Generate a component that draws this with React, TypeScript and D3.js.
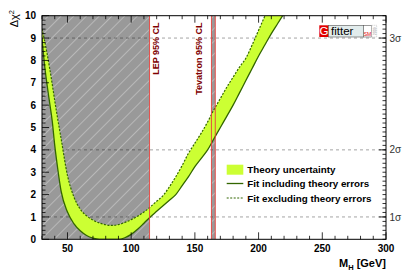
import React, { useEffect, useRef } from 'react';
import * as d3 from 'd3';

// Higgs mass scan
const massGeV = [30, 32, 34, 36, 38, 40, 42, 45, 50, 55, 60, 65, 70, 75, 80, 85, 90, 95, 100,
  105, 110, 115, 120, 125, 130, 135, 140, 145, 150, 155, 160, 165, 170, 175, 180, 185, 190, 195, 200, 205, 210, 215, 220];
const chi2WithTheory = [9.0, 7.8, 6.9, 6.1, 5.3, 4.2, 3.3, 2.15, 1.22, 0.7, 0.38, 0.17, 0.05, 0, 0, 0, 0, 0.07, 0.22,
  0.45, 0.72, 1.0, 1.25, 1.5, 1.75, 2.0, 2.4, 2.8, 3.25, 3.62, 4.0, 4.5, 5.0, 5.5, 6.0, 6.55, 7.1, 7.65, 8.2, 8.7, 9.2, 9.65, 10.1];
const chi2NoTheory = [9.4, 8.9, 8.3, 7.65, 6.95, 6.2, 5.5, 4.5, 2.85, 1.9, 1.35, 1.05, 0.86, 0.73, 0.65, 0.62, 0.66, 0.75, 0.88,
  1.03, 1.22, 1.45, 1.7, 1.95, 2.35, 2.8, 3.3, 3.85, 4.3, 4.75, 5.25, 5.8, 6.3, 6.8, 7.25, 7.7, 8.1, 8.7, 9.35, 10.0, 10.7, 11.3, 11.9];

const xTickLabels = [50, 100, 150, 200, 250, 300];
const yTickLabels = [0, 1, 2, 3, 4, 5, 6, 7, 8, 9, 10];
const sigmaLevels = [1, 2, 3];
const lepLimit = 114.4;
const tevatronRange = [163, 166];
const legendLabels = ['Theory uncertainty', 'Fit including theory errors', 'Fit excluding theory errors'];

const W = 407;
const H = 276;
const left = 42, right = 386, top = 15.7, bottom = 239.3;
const font = 'Liberation Sans, Arial, Helvetica, sans-serif';
const green = '#336600';
const bandColor = '#ccff33';
const darkRed = '#800000';
const limitRed = '#e8413c';

export default function App() {
  const ref = useRef<SVGSVGElement>(null);

  useEffect(() => {
    const svg = d3.select(ref.current);
    svg.selectAll('*').remove();

    const x = d3.scaleLinear().domain([30, 300]).range([left, right]);
    const y = d3.scaleLinear().domain([0, 10]).range([bottom, top]);

    const defs = svg.append('defs');
    defs.append('clipPath').attr('id', 'plot')
      .append('rect').attr('x', left).attr('y', top).attr('width', right - left).attr('height', bottom - top);
    const hatch = defs.append('pattern').attr('id', 'hatch')
      .attr('patternUnits', 'userSpaceOnUse').attr('width', 9).attr('height', 9)
      .attr('patternTransform', 'rotate(45)');
    hatch.append('rect').attr('width', 9).attr('height', 9).attr('fill', '#999');
    hatch.append('line').attr('x1', 0).attr('y1', 0).attr('x2', 0).attr('y2', 9)
      .attr('stroke', 'rgba(255,255,255,0.6)').attr('stroke-width', 1);

    const plot = svg.append('g').attr('clip-path', 'url(#plot)');

    // excluded regions
    plot.append('rect').attr('x', x(30)).attr('y', top).attr('width', x(lepLimit) - x(30))
      .attr('height', bottom - top).attr('fill', 'url(#hatch)');
    plot.append('rect').attr('x', x(tevatronRange[0])).attr('y', top)
      .attr('width', x(tevatronRange[1]) - x(tevatronRange[0]))
      .attr('height', bottom - top).attr('fill', 'url(#hatch)');

    // sigma grid lines
    sigmaLevels.forEach(s => {
      plot.append('line').attr('x1', left).attr('x2', right)
        .attr('y1', y(s * s)).attr('y2', y(s * s))
        .attr('stroke', 'rgba(0,0,0,0.45)').attr('stroke-width', 0.8).attr('stroke-dasharray', '3,3');
    });

    const idx = d3.range(massGeV.length);
    const band = d3.area<number>()
      .x(i => x(massGeV[i]))
      .y0(i => y(chi2WithTheory[i]))
      .y1(i => y(chi2NoTheory[i]))
      .curve(d3.curveMonotoneX);
    plot.append('path').attr('d', band(idx)).attr('fill', bandColor);

    const lineWith = d3.line<number>().x(i => x(massGeV[i])).y(i => y(chi2WithTheory[i])).curve(d3.curveMonotoneX);
    const lineNo = d3.line<number>().x(i => x(massGeV[i])).y(i => y(chi2NoTheory[i])).curve(d3.curveMonotoneX);
    plot.append('path').attr('d', lineWith(idx)).attr('fill', 'none')
      .attr('stroke', green).attr('stroke-width', 1.3);
    plot.append('path').attr('d', lineNo(idx)).attr('fill', 'none')
      .attr('stroke', green).attr('stroke-width', 1.2).attr('stroke-dasharray', '2,1.5');

    // limit lines
    [lepLimit, tevatronRange[0], tevatronRange[1]].forEach(m => {
      plot.append('line').attr('x1', x(m)).attr('x2', x(m)).attr('y1', top).attr('y2', bottom)
        .attr('stroke', limitRed).attr('stroke-width', 0.9);
    });

    // limit labels
    [['LEP 95% CL', x(lepLimit) + 9.5], ['Tevatron 95% CL', x(tevatronRange[0]) - 9.4]].forEach(([label, tx]) => {
      svg.append('text')
        .attr('transform', `translate(${tx},22.5) rotate(-90)`)
        .attr('text-anchor', 'end')
        .attr('font-family', font).attr('font-weight', 'bold').attr('font-size', 9)
        .attr('fill', darkRed)
        .text(label as string);
    });

    // frame
    svg.append('rect').attr('x', left).attr('y', top).attr('width', right - left).attr('height', bottom - top)
      .attr('fill', 'none').attr('stroke', '#000').attr('stroke-width', 1);

    const ticks = svg.append('g').attr('stroke', '#000').attr('stroke-width', 0.8);
    d3.range(30, 301, 10).forEach(v => {
      const len = v % 50 === 0 ? 7 : 3.5;
      ticks.append('line').attr('x1', x(v)).attr('x2', x(v)).attr('y1', bottom).attr('y2', bottom - len);
      ticks.append('line').attr('x1', x(v)).attr('x2', x(v)).attr('y1', top).attr('y2', top + len);
    });
    d3.range(0, 50.5, 1).forEach(k => {
      const v = k * 0.2;
      const major = k % 5 === 0;
      ticks.append('line').attr('x1', left).attr('x2', left + (major ? 7 : 3.5)).attr('y1', y(v)).attr('y2', y(v));
      ticks.append('line').attr('x1', right).attr('x2', right - 3.5).attr('y1', y(v)).attr('y2', y(v));
    });
    sigmaLevels.forEach(s => {
      ticks.append('line').attr('x1', right).attr('x2', right - 7).attr('y1', y(s * s)).attr('y2', y(s * s));
    });

    // tick labels
    xTickLabels.forEach(v => {
      svg.append('text').attr('x', x(v)).attr('y', 251.5).attr('text-anchor', 'middle')
        .attr('font-family', font).attr('font-weight', 'bold').attr('font-size', 10).text(v);
    });
    yTickLabels.forEach(v => {
      svg.append('text').attr('x', 36).attr('y', y(v)).attr('dy', '0.36em').attr('text-anchor', 'end')
        .attr('font-family', font).attr('font-weight', 'bold').attr('font-size', 10).text(v);
    });
    sigmaLevels.forEach(s => {
      svg.append('text').attr('x', 389.5).attr('y', y(s * s)).attr('dy', '0.36em')
        .attr('font-family', font).attr('font-size', 10).attr('fill', '#333').text(`${s}σ`);
    });

    // axis titles
    const yt = svg.append('text').attr('transform', 'translate(17.5,10) rotate(-90)')
      .attr('text-anchor', 'end').attr('font-family', font).attr('font-size', 11);
    yt.append('tspan').text('Δχ');
    yt.append('tspan').attr('dy', -4).attr('font-size', 7.5).text('2');

    const xt = svg.append('text').attr('x', right).attr('y', 267).attr('text-anchor', 'end')
      .attr('font-family', font).attr('font-weight', 'bold').attr('font-size', 11);
    xt.append('tspan').text('M');
    xt.append('tspan').attr('dy', 2.5).attr('font-size', 7.5).text('H');
    xt.append('tspan').attr('dy', -2.5).text(' [GeV]');

    // legend
    const lg = svg.append('g').attr('font-family', font).attr('font-weight', 'bold').attr('font-size', 9.8);
    const rows = [169.7, 183.5, 198];
    lg.append('rect').attr('x', 226.7).attr('y', rows[0] - 5).attr('width', 16.6).attr('height', 10).attr('fill', bandColor);
    lg.append('line').attr('x1', 226.7).attr('x2', 243.3).attr('y1', rows[1]).attr('y2', rows[1])
      .attr('stroke', green).attr('stroke-width', 1.3);
    lg.append('line').attr('x1', 226.7).attr('x2', 243.3).attr('y1', rows[2]).attr('y2', rows[2])
      .attr('stroke', green).attr('stroke-width', 1.2).attr('stroke-dasharray', '2,1.5');
    legendLabels.forEach((label, i) => {
      lg.append('text').attr('x', 247.3).attr('y', rows[i]).attr('dy', '0.36em').text(label);
    });

    // Gfitter logo
    const logo = svg.append('g');
    logo.append('rect').attr('x', 319.3).attr('y', 25.3).attr('width', 9.3).attr('height', 11.7).attr('fill', '#e00000');
    logo.append('text').attr('x', 324).attr('y', 35.3).attr('text-anchor', 'middle')
      .attr('font-family', font).attr('font-size', 11.5).attr('fill', '#fff').text('G');
    logo.append('rect').attr('x', 328.6).attr('y', 25.3).attr('width', 34.7).attr('height', 11.7)
      .attr('fill', '#e2ecec').attr('stroke', '#555').attr('stroke-width', 0.6);
    logo.append('text').attr('x', 331).attr('y', 35).attr('font-family', font).attr('font-size', 11.5)
      .attr('fill', '#000').text('fitter');
    logo.append('rect').attr('x', 363.3).attr('y', 25.3).attr('width', 8.4).attr('height', 11.7)
      .attr('fill', '#fff').attr('stroke', '#555').attr('stroke-width', 0.6);
    logo.append('text').attr('x', 367.5).attr('y', 35.5).attr('text-anchor', 'middle')
      .attr('font-family', font).attr('font-size', 5).attr('fill', '#e00000').text('SM');
    logo.append('rect').attr('x', 371.7).attr('y', 25.3).attr('width', 5).attr('height', 11.7)
      .attr('fill', '#fff').attr('stroke', '#999').attr('stroke-width', 0.5).attr('stroke-dasharray', '1,1');
    logo.append('text').attr('transform', 'translate(375.6,31.2) rotate(-90)').attr('text-anchor', 'middle')
      .attr('font-family', font).attr('font-size', 3.6).attr('fill', '#888').text('2009');
  }, []);

  return (
    <div>
      <svg ref={ref} width={W} height={H}
        style={{ position: 'absolute', left: 0, top: 0, background: '#fff' }} />
    </div>
  );
}
